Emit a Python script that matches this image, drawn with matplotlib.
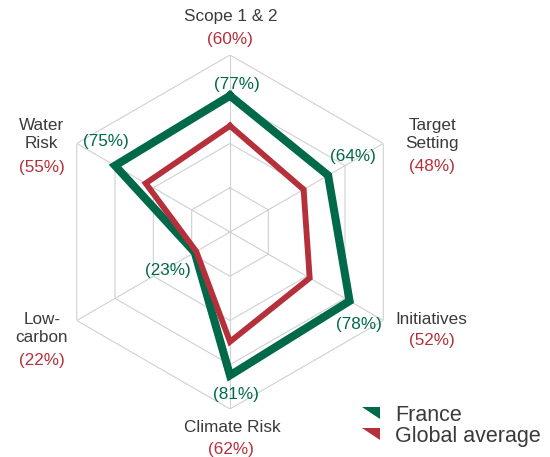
import numpy as np
import matplotlib.pyplot as plt
from matplotlib.path import Path
from matplotlib.lines import Line2D

# categories clockwise from the top
categories = ["Scope 1 & 2", "Target\nSetting", "Initiatives", "Climate Risk", "Low-\ncarbon", "Water\nRisk"]
france = [77, 64, 78, 81, 23, 75]
global_avg = [60, 48, 52, 62, 22, 55]
grid_levels = [25, 50, 75, 100]

GREEN = "#00694a"
RED = "#b5303a"
GREY_TXT = "#3a3a3a"

plt.rcParams['font.family'] = ['Liberation Sans', 'DejaVu Sans']

fig = plt.figure(figsize=(5.5, 4.57), dpi=100)
ax = fig.add_axes([53 / 550, 48 / 457, 354 / 550, 354 / 457], projection='polar')
ax.set_theta_offset(np.pi / 2)
ax.set_theta_direction(-1)
ax.set_ylim(0, 100)
ax.grid(False)
ax.spines['polar'].set_visible(False)
ax.set_xticks([])
ax.set_yticks([])
ax.patch.set_alpha(0)

n = len(categories)
theta = np.linspace(0, 2 * np.pi, n, endpoint=False)
theta_c = np.append(theta, theta[0])

# hexagon grid
for lvl in grid_levels:
    ax.plot(theta_c, [lvl] * (n + 1), color="#d0d0d0", lw=0.8, zorder=1)
for t in theta:
    ax.plot([t, t], [0, 100], color="#d0d0d0", lw=0.8, zorder=1)

ax.plot(theta_c, france + france[:1], color=GREEN, lw=5.8, solid_joinstyle='miter', zorder=3)
ax.plot(theta_c, global_avg + global_avg[:1], color=RED, lw=4.2, solid_joinstyle='miter', zorder=4)

FS = 12.3

# axis names (offsets from the outer vertex, in points)
name_off = [(0.7, 27.4), (35.3, 6.5), (34.6, 0.7), (1.4, -13), (-25.2, -6.1), (-25.2, 6.5)]
for t, name, off in zip(theta, categories, name_off):
    ax.annotate(name, xy=(t, 100), xytext=off, textcoords='offset points',
                ha='center', va='center', fontsize=FS, color=GREY_TXT,
                linespacing=1.25, annotation_clip=False)

# global average values under the names
pct_off = [(0, 11.2), (35.3, -16.6), (35.3, -14.4), (1, -29.2), (-25.2, -28.8), (-25.2, -17.3)]
for t, g, off in zip(theta, global_avg, pct_off):
    ax.annotate(f"({g}%)", xy=(t, 100), xytext=off, textcoords='offset points',
                ha='center', va='center', fontsize=FS, color=RED,
                annotation_clip=False)

# France values next to the green vertices
fr_off = [(4.7, 8.4), (17.6, 13.6), (6.8, -16.9), (4, -14.1), (-19.6, -13), (-6.5, 17.3)]
for t, f, off in zip(theta, france, fr_off):
    ax.annotate(f"({f}%)", xy=(t, f), xytext=off, textcoords='offset points',
                ha='center', va='center', fontsize=FS, color=GREEN,
                annotation_clip=False)

# legend with corner triangle markers
tri = Path([(-1, 0.7), (1, 0.7), (1, -0.7), (-1, 0.7)],
           [Path.MOVETO, Path.LINETO, Path.LINETO, Path.CLOSEPOLY])
handles = [Line2D([], [], ls='none', marker=tri, markersize=13, color=GREEN, markeredgewidth=0),
           Line2D([], [], ls='none', marker=tri, markersize=13, color=RED, markeredgewidth=0)]
fig.legend(handles, ["France", "Global average"], loc='upper left',
           bbox_to_anchor=(350 / 550, 1 - 394 / 457), frameon=False, fontsize=15.5,
           borderpad=0, handletextpad=0.65, labelspacing=0.0, labelcolor=GREY_TXT,
           handlelength=0.95)

fig.savefig("out.png", dpi=100)
